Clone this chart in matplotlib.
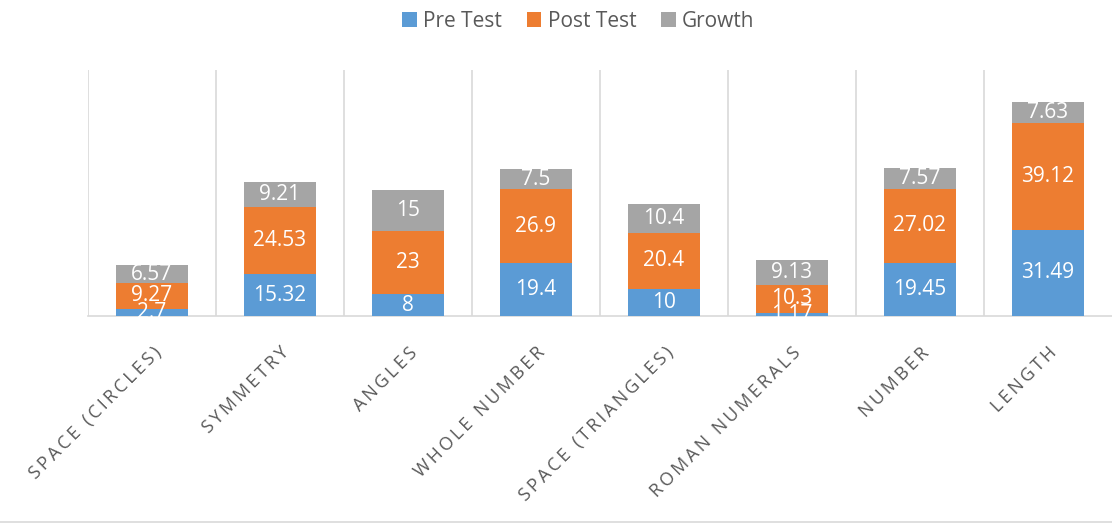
import matplotlib.pyplot as plt
import numpy as np

# ================== DATA ==================

categories = ['SPACE (CIRCLES)', 'SYMMETRY', 'ANGLES', 'WHOLE NUMBER',
              'SPACE (TRIANGLES)', 'ROMAN NUMERALS', 'NUMBER', 'LENGTH']
pre_test = [2.7, 15.32, 8, 19.4, 10, 1.17, 19.45, 31.49]
post_test = [9.27, 24.53, 23, 26.9, 20.4, 10.3, 27.02, 39.12]
growth = [6.57, 9.21, 15, 7.5, 10.4, 9.13, 7.57, 7.63]

series = [('Pre Test', pre_test, '#5b9bd5'),
          ('Post Test', post_test, '#ed7d31'),
          ('Growth', growth, '#a5a5a5')]

plt.rcParams['font.family'] = ['Open Sans', 'DejaVu Sans']

# ================== PLOT ==================

fig = plt.figure(figsize=(11.12, 5.24), dpi=100)
ax = fig.add_axes([88 / 1112, 1 - 316 / 524, 1024 / 1112, 246 / 524])

x = np.arange(len(categories))
bottom = np.zeros(len(categories))
for name, vals, color in series:
    vals = np.array(vals, dtype=float)
    ax.bar(x, vals, 0.56, bottom=bottom, color=color, label=name, zorder=3)
    for xi, b, v in zip(x, bottom, vals):
        ax.text(xi, b + v / 2, f'{v:g}', ha='center', va='center',
                color='white', fontsize=15, zorder=4)
    bottom += vals

ax.set_xlim(-0.5, len(categories) - 0.5)
ax.set_ylim(0, 90)
ax.set_yticks([])

# category separators
for b in np.arange(len(categories)) - 0.5:
    ax.axvline(b, color='#d9d9d9', lw=1.2, zorder=1)

for side in ['top', 'right', 'left']:
    ax.spines[side].set_visible(False)
ax.spines['bottom'].set_color('#d9d9d9')
ax.spines['bottom'].set_linewidth(1.2)

# spaced-out category labels, like the original
spaced = ['\u2009'.join(c) for c in categories]
ax.set_xticks(x)
ax.set_xticklabels(spaced, rotation=45, ha='right', rotation_mode='anchor',
                   fontsize=13, color='#595959')
ax.tick_params(axis='x', length=0, pad=20)

fig.legend(loc='upper center', bbox_to_anchor=(0.52, 1.015), ncol=3, frameon=False,
           fontsize=15, labelcolor='#595959', handlelength=0.7, handleheight=0.7,
           handletextpad=0.3, columnspacing=1.2)

# bottom border line of the chart area
fig.add_artist(plt.Line2D([0, 1], [2 / 524, 2 / 524], color='#d9d9d9', lw=1.2))

plt.savefig('out.png')
